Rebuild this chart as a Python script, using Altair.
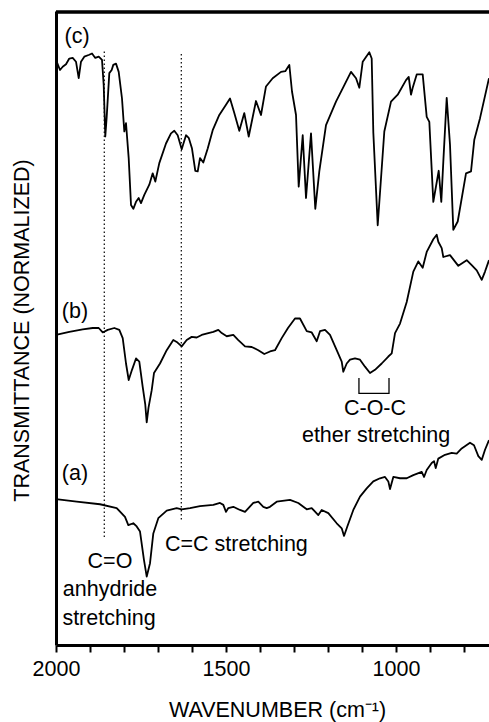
import altair as alt
import pandas as pd

# ---- spectrum (c) ----
wn_c = [2000.0, 1988.2, 1980.3, 1970.6, 1960.9, 1950.9, 1941.2, 1933.2, 1926.5, 1916.8,
        1902.1, 1894.1, 1884.4, 1874.4, 1864.7, 1859.7, 1855.0, 1850.9, 1843.2, 1836.2,
        1831.5, 1823.5, 1815.6, 1805.9, 1799.1, 1794.1, 1786.2, 1779.4, 1772.6, 1764.7,
        1756.8, 1750.0, 1740.3, 1725.6, 1715.6, 1707.9, 1696.2, 1676.5, 1661.8, 1652.1,
        1642.1, 1630.3, 1617.6, 1609.7, 1600.0, 1590.3, 1583.2, 1576.5, 1566.8, 1553.8,
        1539.1, 1519.7, 1500.0, 1488.2, 1475.6, 1460.9, 1446.2, 1433.2, 1411.8, 1397.1,
        1382.4, 1362.7, 1338.2, 1325.6, 1313.8, 1305.9, 1294.1, 1286.2, 1274.4, 1264.7,
        1250.0, 1237.4, 1225.6, 1205.9, 1176.5, 1152.0, 1132.4, 1117.6, 1107.9, 1097.9,
        1078.5, 1071.5, 1066.7, 1053.8, 1034.4, 1014.7, 995.0, 970.6, 962.6, 955.9,
        950.9, 939.1, 921.5, 909.7, 902.0, 890.3, 874.4, 866.8, 860.9, 850.9,
        841.2, 831.5, 818.5, 794.1, 779.4, 769.7, 752.9, 726.5]
tr_c = [92.3, 90.7, 91.2, 91.6, 92.5, 92.6, 92.0, 89.4, 92.0, 92.8,
        93.1, 93.3, 92.6, 92.8, 92.3, 88.3, 80.2, 83.3, 90.2, 90.7,
        91.5, 91.7, 90.4, 86.2, 81.0, 82.3, 76.8, 69.4, 68.8, 69.9,
        70.5, 69.7, 71.0, 72.6, 74.4, 73.1, 76.0, 79.1, 80.7, 81.1,
        80.4, 78.2, 80.4, 80.0, 78.3, 74.8, 74.7, 76.8, 76.1, 78.3,
        81.2, 83.6, 85.2, 86.2, 83.9, 81.1, 83.9, 80.2, 85.8, 83.6,
        88.1, 89.4, 90.4, 90.5, 91.5, 87.3, 83.6, 72.3, 80.4, 70.5,
        80.7, 68.8, 74.7, 82.0, 85.7, 88.3, 90.4, 89.4, 87.9, 92.0,
        93.5, 92.5, 80.8, 66.2, 81.0, 85.7, 86.8, 89.1, 89.6, 86.8,
        87.9, 90.0, 90.0, 83.3, 82.5, 69.9, 74.8, 69.9, 76.2, 86.3,
        78.9, 65.5, 66.8, 74.4, 74.7, 79.7, 83.1, 89.4]

# ---- spectrum (b) ----
wn_b = [2000.0, 1960.9, 1921.5, 1892.1, 1874.4, 1862.6, 1847.9, 1828.5, 1813.8, 1803.8,
        1794.1, 1786.2, 1776.5, 1764.7, 1755.0, 1745.0, 1737.4, 1733.2, 1728.0, 1718.5,
        1711.8, 1694.1, 1674.4, 1655.0, 1645.0, 1630.3, 1615.6, 1600.9, 1586.2, 1571.5,
        1552.1, 1537.3, 1522.6, 1512.6, 1497.9, 1478.5, 1463.8, 1444.1, 1424.4, 1405.0,
        1387.4, 1370.6, 1355.9, 1336.2, 1317.7, 1297.1, 1282.4, 1262.6, 1247.9, 1233.2,
        1223.5, 1208.8, 1194.1, 1174.4, 1159.7, 1155.0, 1145.0, 1135.3, 1120.6, 1105.9,
        1091.2, 1076.5, 1061.8, 1042.1, 1022.6, 1012.6, 1002.9, 988.2, 968.5, 949.1,
        934.4, 921.5, 909.7, 890.3, 880.3, 875.6, 865.6, 860.9, 841.2, 816.7,
        792.1, 777.4, 762.6, 747.9, 738.2, 726.5]
tr_b = [48.9, 49.4, 49.8, 50.0, 50.0, 49.3, 49.7, 50.0, 49.7, 48.4,
        44.4, 41.8, 43.4, 45.2, 44.7, 40.7, 37.9, 35.1, 37.4, 40.2,
        42.9, 44.4, 46.5, 48.1, 47.8, 47.1, 48.1, 48.6, 48.5, 48.9,
        49.2, 49.4, 49.7, 49.2, 48.7, 48.9, 48.1, 47.1, 47.0, 46.5,
        45.9, 46.3, 46.5, 48.4, 50.0, 51.5, 51.5, 49.5, 49.3, 47.9,
        49.5, 49.7, 48.9, 46.5, 44.7, 43.1, 44.4, 45.0, 45.2, 45.0,
        43.9, 42.9, 43.4, 44.4, 45.5, 46.0, 49.2, 50.7, 54.1, 58.9,
        60.5, 59.5, 62.0, 64.0, 64.7, 63.6, 62.6, 61.2, 61.5, 59.8,
        60.7, 59.9, 59.1, 57.6, 58.9, 60.7]

# ---- spectrum (a) ----
wn_a = [2000.0, 1939.1, 1870.6, 1821.5, 1797.1, 1787.3, 1772.6, 1762.6, 1752.9, 1741.2,
        1733.2, 1723.5, 1713.8, 1699.1, 1674.4, 1645.0, 1630.3, 1605.9, 1576.5, 1537.3,
        1517.6, 1507.9, 1500.0, 1493.2, 1478.5, 1458.8, 1444.1, 1419.7, 1405.0, 1390.3,
        1380.3, 1370.6, 1350.9, 1311.8, 1287.4, 1262.6, 1247.9, 1228.5, 1218.5, 1199.1,
        1174.4, 1159.7, 1152.9, 1143.2, 1125.6, 1105.9, 1086.2, 1066.8, 1047.1, 1032.4,
        1022.6, 1017.6, 1007.9, 988.2, 968.5, 949.1, 924.4, 917.6, 909.7, 895.0,
        888.2, 883.2, 875.6, 855.9, 836.2, 821.5, 806.8, 782.4, 770.6, 757.9,
        747.9, 738.2, 726.5]
tr_a = [23.0, 22.6, 22.2, 21.6, 20.2, 18.9, 19.2, 18.7, 17.9, 13.4,
        10.8, 12.9, 17.6, 20.0, 21.2, 21.6, 21.4, 21.6, 21.9, 22.1,
        22.4, 22.1, 21.0, 21.6, 21.8, 21.3, 21.0, 22.4, 22.6, 21.8,
        21.6, 21.8, 22.6, 22.9, 22.4, 21.4, 21.6, 20.5, 21.3, 20.8,
        19.2, 18.4, 17.2, 18.7, 21.3, 23.4, 24.7, 25.8, 26.3, 26.5,
        25.8, 24.6, 26.5, 26.3, 26.3, 26.8, 27.3, 26.5, 27.6, 28.7,
        29.0, 27.9, 29.4, 30.0, 30.3, 30.2, 31.0, 31.9, 31.5, 29.8,
        29.2, 30.8, 32.3]

# ---- dotted marker lines ----
mark_wn = [1858.0, 1631.5]
mark_top = [93.6, 93.2]
mark_bot = [16.9, 19.5]

# ---- C-O-C bracket ----
br_wn = [1109.0, 1109.0, 1020.6, 1020.6]
br_tr = [42.1, 39.7, 39.7, 42.1]

# ---- annotations ----
lab_text = ["(c)", "(b)", "(a)", "C=O", "anhydride", "stretching", "C-O-C", "ether stretching"]
lab_wn = [1938.2, 1944.1, 1944.1, 1841.2, 1841.2, 1844.1, 1061.8, 1058.8]
lab_tr = [95.9, 52.5, 27.0, 13.1, 8.7, 4.1, 37.2, 33.0]
left_text = ["C=C stretching"]
left_wn = [1679.4]
left_tr = [15.8]

# ---- top edge of the frame (a thin filled band plus a line) ----
frame_wn = [2000.0, 726.5]
frame_lo = [99.6, 99.6]
frame_hi = [100.1, 100.1]
frame_mid = [99.8, 99.8]

FONT = "Liberation Sans"
FS = 21.5
W, H = 433, 634

rows = []
for name, xs, ys in [("c", wn_c, tr_c), ("b", wn_b, tr_b), ("a", wn_a, tr_a)]:
    for i, (x, y) in enumerate(zip(xs, ys)):
        rows.append({"trace": name, "idx": i, "wn": x, "tr": y})
spec_df = pd.DataFrame(rows)

x_scale = alt.Scale(domain=[2000, 726.5], nice=False, zero=False)
y_scale = alt.Scale(domain=[0, 100], nice=False, zero=False)

x_axis = alt.Axis(
    values=list(range(800, 2001, 100)), format="d",
    labelExpr="datum.value % 500 == 0 ? datum.label : ''",
    labelOverlap=False, labelFlush=False, labelFont=FONT, labelFontSize=FS,
    labelColor="black", labelPadding=6,
    tickSize=7, tickWidth=2, tickColor="black",
    domainColor="black", domainWidth=3, grid=False,
    title="WAVENUMBER (cm⁻¹)", titleFont=FONT, titleFontSize=FS,
    titleFontWeight="normal", titleColor="black",
    titleX=221, titleY=65, titleAlign="center", titleBaseline="middle",
)
y_axis = alt.Axis(
    ticks=False, labels=False, grid=False,
    domainColor="black", domainWidth=3,
    title="TRANSMITTANCE (NORMALIZED)", titleFont=FONT, titleFontSize=FS,
    titleFontWeight="normal", titleColor="black",
    titleAngle=270, titleX=-34, titleY=319, titleAlign="center", titleBaseline="middle",
)

X = lambda f="wn": alt.X(f"{f}:Q", scale=x_scale, axis=x_axis)
Y = lambda f="tr": alt.Y(f"{f}:Q", scale=y_scale, axis=y_axis)

lines = alt.Chart(spec_df).mark_line(color="black", strokeWidth=1.8, strokeJoin="round").encode(
    x=X(), y=Y(), detail="trace:N", order="idx:Q"
)

mark_df = pd.DataFrame({"wn": mark_wn, "tr": mark_top, "tr2": mark_bot})
dotted = alt.Chart(mark_df).mark_rule(color="black", strokeWidth=1.2, strokeDash=[1.5, 2.5]).encode(
    x=X(), y=Y(), y2=alt.Y2("tr2:Q")
)

br_df = pd.DataFrame({"wn": br_wn, "tr": br_tr, "idx": list(range(len(br_wn)))})
bracket = alt.Chart(br_df).mark_line(color="black", strokeWidth=1.3).encode(
    x=X(), y=Y(), order="idx:Q"
)

band_df = pd.DataFrame({"wn": [frame_wn[0]], "wn2": [frame_wn[1]],
                        "tr": [frame_hi[0]], "tr2": [frame_lo[0]]})
top_band = alt.Chart(band_df).mark_rect(color="black", opacity=1).encode(
    x=X(), x2=alt.X2("wn2:Q"), y=Y(), y2=alt.Y2("tr2:Q")
)
line_df = pd.DataFrame({"wn": frame_wn, "tr": frame_mid, "seg": ["top", "top"]})
top_line = alt.Chart(line_df).mark_line(strokeWidth=2.5).encode(
    x=X(), y=Y(), color=alt.Color("seg:N", scale=alt.Scale(range=["black"]), legend=None)
)

lab_df = pd.DataFrame({"wn": lab_wn, "tr": lab_tr, "text": lab_text})
labels = alt.Chart(lab_df).mark_text(font=FONT, fontSize=FS, color="black",
                                     align="center", baseline="middle").encode(
    x=X(), y=Y(), text="text:N"
)
left_df = pd.DataFrame({"wn": left_wn, "tr": left_tr, "text": left_text})
left_labels = alt.Chart(left_df).mark_text(font=FONT, fontSize=FS, color="black",
                                           align="left", baseline="middle").encode(
    x=X(), y=Y(), text="text:N"
)

chart = alt.layer(top_band, top_line, lines, dotted, bracket, labels, left_labels).properties(
    width=W, height=H,
    autosize=alt.AutoSizeParams(type="none"),
    padding={"left": 56, "top": 11, "right": 0, "bottom": 77},
    background="white",
).configure(font=FONT).configure_view(stroke=None)

chart.save("out.html", embed_options={"renderer": "svg", "actions": False})
